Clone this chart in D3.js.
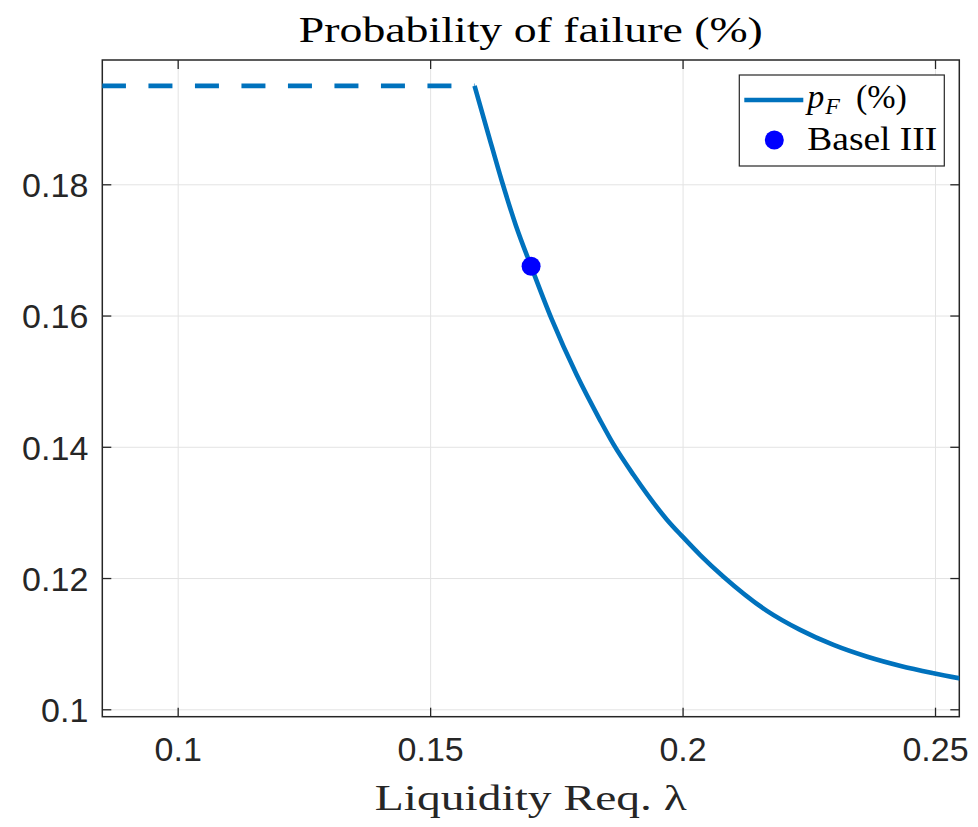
<!DOCTYPE html>
<html>
<head>
<meta charset="utf-8">
<script src="https://cdn.jsdelivr.net/npm/d3@7"></script>
<style>
  body { margin: 0; background: #fff; }
</style>
</head>
<body>
<div id="chart"></div>
<script>
// ---- Data ----
// solid curve: p_F (%) as a function of the liquidity requirement
const lambdaCurve = [0.1588, 0.1615, 0.1642, 0.1670, 0.1700, 0.1741, 0.1790, 0.1837, 0.1863, 0.1903, 0.1969,
                     0.2000, 0.2035, 0.2081, 0.2167, 0.2233, 0.2299, 0.2366, 0.2432, 0.2497, 0.2550];
const pfCurve     = [0.1950, 0.1877, 0.1805, 0.1737, 0.1675, 0.1594, 0.1510, 0.1440, 0.1404, 0.1357, 0.1289,
                     0.1263, 0.1235, 0.1202, 0.1150, 0.1121, 0.1098, 0.1080, 0.1066, 0.1055, 0.1047];
// dashed flat part
const lambdaFlat = [0.085, 0.1588];
const pfFlat     = [0.195, 0.195];
// Basel III marker
const baselLambda = [0.170];
const baselPf     = [0.1675];

const xTicks = [0.1, 0.15, 0.2, 0.25];
const yTicks = [0.1, 0.12, 0.14, 0.16, 0.18];
const xDomain = [0.08507, 0.25481];
const yDomain = [0.09887, 0.19894];

const titleText = "Probability of failure (%)";
const xLabelText = "Liquidity Req. \u03bb";

// ---- Layout ----
const width = 978, height = 827;
const margin = { top: 60, right: 18.7, bottom: 110.3, left: 102.3 };
const innerW = width - margin.left - margin.right;
const innerH = height - margin.top - margin.bottom;

const blue = "#0072BD";
const axisColor = "#262626";
const serif = "'Liberation Serif', 'Times New Roman', serif";
const sans = "'Liberation Sans', Arial, sans-serif";

const x = d3.scaleLinear(xDomain, [0, innerW]);
const y = d3.scaleLinear(yDomain, [innerH, 0]);

const svg = d3.select("#chart").append("svg")
  .attr("width", width)
  .attr("height", height);

const g = svg.append("g").attr("transform", `translate(${margin.left},${margin.top})`);

g.append("clipPath").attr("id", "clip")
  .append("rect").attr("width", innerW).attr("height", innerH);

// grid
g.append("g")
  .attr("transform", `translate(0,${innerH})`)
  .call(d3.axisBottom(x).tickValues(xTicks).tickSize(-innerH).tickFormat(""))
  .call(s => s.select(".domain").remove())
  .call(s => s.selectAll("line").attr("stroke", "#e3e3e3").attr("stroke-width", 1));
g.append("g")
  .call(d3.axisLeft(y).tickValues(yTicks).tickSize(-innerW).tickFormat(""))
  .call(s => s.select(".domain").remove())
  .call(s => s.selectAll("line").attr("stroke", "#e3e3e3").attr("stroke-width", 1));

const fmt = d3.format("~g");

// axes (ticks point inward, MATLAB style)
const styleAxis = s => {
  s.select(".domain").remove();
  s.selectAll("line").attr("stroke", axisColor).attr("stroke-width", 1.3);
  s.selectAll("text").attr("fill", axisColor).attr("font-family", sans).attr("font-size", 34);
};
g.append("g")
  .attr("transform", `translate(0,${innerH})`)
  .call(d3.axisBottom(x).tickValues(xTicks).tickSizeInner(-9).tickSizeOuter(0).tickPadding(20).tickFormat(fmt))
  .call(styleAxis);
g.append("g")
  .call(d3.axisLeft(y).tickValues(yTicks).tickSizeInner(-9).tickSizeOuter(0).tickPadding(14).tickFormat(fmt))
  .call(styleAxis)
  .call(s => s.selectAll("text").attr("dy", "0.36em"));
g.append("g")
  .call(d3.axisTop(x).tickValues(xTicks).tickSizeInner(-9).tickSizeOuter(0).tickFormat(""))
  .call(styleAxis);
g.append("g")
  .attr("transform", `translate(${innerW},0)`)
  .call(d3.axisRight(y).tickValues(yTicks).tickSizeInner(-9).tickSizeOuter(0).tickFormat(""))
  .call(styleAxis);

// box
g.append("rect")
  .attr("width", innerW).attr("height", innerH)
  .attr("fill", "none").attr("stroke", axisColor).attr("stroke-width", 1.5);

// lines
const line = d3.line().x(d => x(d[0])).y(d => y(d[1]));
const plot = g.append("g").attr("clip-path", "url(#clip)");

plot.append("path")
  .datum(d3.zip(lambdaFlat, pfFlat))
  .attr("d", line)
  .attr("fill", "none")
  .attr("stroke", blue)
  .attr("stroke-width", 4.6)
  .attr("stroke-dasharray", "24,22.5");

plot.append("path")
  .datum(d3.zip(lambdaCurve, pfCurve))
  .attr("d", line.curve(d3.curveMonotoneX))
  .attr("fill", "none")
  .attr("stroke", blue)
  .attr("stroke-width", 4.6)
  .attr("stroke-linejoin", "round");

plot.selectAll("circle.basel")
  .data(d3.zip(baselLambda, baselPf))
  .join("circle")
  .attr("class", "basel")
  .attr("cx", d => x(d[0]))
  .attr("cy", d => y(d[1]))
  .attr("r", 9.5)
  .attr("fill", "#0000FF");

// title + x label
svg.append("text")
  .attr("x", margin.left + innerW / 2)
  .attr("y", 42)
  .attr("text-anchor", "middle")
  .attr("font-family", serif)
  .attr("font-size", 36)
  .attr("fill", "#000")
  .attr("textLength", 464)
  .attr("lengthAdjust", "spacingAndGlyphs")
  .text(titleText);

svg.append("text")
  .attr("x", margin.left + innerW / 2)
  .attr("y", 810)
  .attr("text-anchor", "middle")
  .attr("font-family", serif)
  .attr("font-size", 36)
  .attr("fill", axisColor)
  .attr("textLength", 312)
  .attr("lengthAdjust", "spacingAndGlyphs")
  .text(xLabelText);

// legend
const lg = g.append("g").attr("transform", `translate(${innerW - 220},15)`);
lg.append("rect")
  .attr("width", 205).attr("height", 91)
  .attr("fill", "#fff").attr("stroke", axisColor).attr("stroke-width", 1.2);
lg.append("line")
  .attr("x1", 5).attr("x2", 64).attr("y1", 25).attr("y2", 25)
  .attr("stroke", blue).attr("stroke-width", 4.6);
const t1 = lg.append("text")
  .attr("x", 68).attr("y", 33)
  .attr("font-family", serif).attr("font-size", 34).attr("fill", "#000");
t1.append("tspan").attr("font-style", "italic").text("p");
t1.append("tspan").attr("font-style", "italic").attr("font-size", 24).attr("dy", 6).attr("dx", 1).text("F");
t1.append("tspan").attr("dy", -6).attr("dx", 16).text("(%)");
lg.append("circle")
  .attr("cx", 35).attr("cy", 65).attr("r", 9.5).attr("fill", "#0000FF");
lg.append("text")
  .attr("x", 68).attr("y", 75)
  .attr("font-family", serif).attr("font-size", 33).attr("fill", "#000")
  .attr("textLength", 130).attr("lengthAdjust", "spacingAndGlyphs")
  .text("Basel III");
</script>
</body>
</html>
